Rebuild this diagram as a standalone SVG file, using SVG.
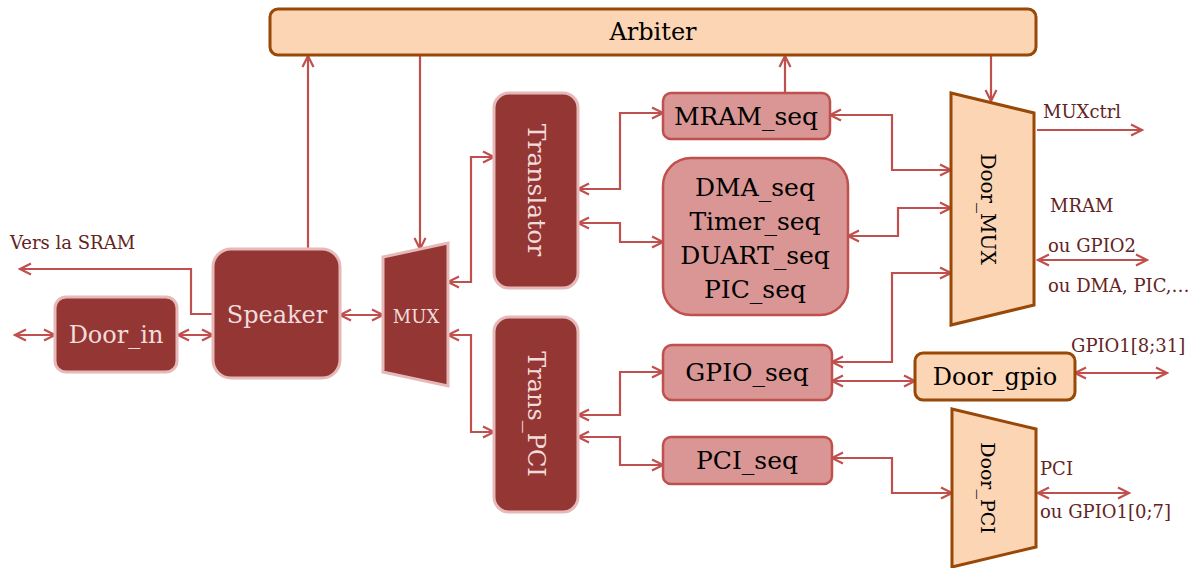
<svg xmlns="http://www.w3.org/2000/svg" width="1198" height="568" viewBox="0 0 1198 568">
<style>
.dark{fill:#943634;stroke:#E6B9B8;stroke-width:3}
.mid{fill:#D99694;stroke:#C0504D;stroke-width:2.5}
.or{fill:#FCD5B5;stroke:#984807;stroke-width:3}
.tl{font-family:"DejaVu Serif",serif;font-size:24px;fill:#F2DCDB;text-anchor:middle;dominant-baseline:central}
.tb{font-family:"DejaVu Serif",serif;font-size:24px;fill:#000;text-anchor:middle;dominant-baseline:central}
.lab{font-family:"DejaVu Serif",serif;font-size:18px;fill:#632423}
.c{fill:none;stroke:#C0504D;stroke-width:2.2}
</style>
<defs>
<marker id="a" viewBox="0 0 14 14" refX="12" refY="7" markerWidth="14" markerHeight="14" markerUnits="userSpaceOnUse" orient="auto-start-reverse">
<path d="M1,1.5 L12,7 L1,12.5" fill="none" stroke="#C0504D" stroke-width="2.2"/>
</marker>
</defs>
<rect width="1198" height="568" fill="#fff"/>
<g id="connectors">
<path class="c" d="M308,249 V56" marker-end="url(#a)"/>
<path class="c" d="M420,55 V249" marker-end="url(#a)"/>
<path class="c" d="M785,93 V56" marker-end="url(#a)"/>
<path class="c" d="M991,55 V101" marker-end="url(#a)"/>
<path class="c" d="M213,314 H191 V269 H20" marker-end="url(#a)"/>
<path class="c" d="M15,335 H55" marker-start="url(#a)" marker-end="url(#a)"/>
<path class="c" d="M178,335 H213" marker-start="url(#a)" marker-end="url(#a)"/>
<path class="c" d="M340,315 H383" marker-start="url(#a)" marker-end="url(#a)"/>
<path class="c" d="M448,282 H471 V157 H494" marker-start="url(#a)" marker-end="url(#a)"/>
<path class="c" d="M448,335 H471 V432 H494" marker-start="url(#a)" marker-end="url(#a)"/>
<path class="c" d="M578,189 H620 V113 H663" marker-start="url(#a)" marker-end="url(#a)"/>
<path class="c" d="M578,223 H620 V242 H663" marker-start="url(#a)" marker-end="url(#a)"/>
<path class="c" d="M830,115 H892 V170 H951" marker-start="url(#a)" marker-end="url(#a)"/>
<path class="c" d="M848,236 H898 V208 H951" marker-start="url(#a)" marker-end="url(#a)"/>
<path class="c" d="M832,362 H892 V273 H951" marker-start="url(#a)" marker-end="url(#a)"/>
<path class="c" d="M832,381 H915" marker-start="url(#a)" marker-end="url(#a)"/>
<path class="c" d="M1075,373 H1167" marker-start="url(#a)" marker-end="url(#a)"/>
<path class="c" d="M578,415 H620 V372 H663" marker-start="url(#a)" marker-end="url(#a)"/>
<path class="c" d="M578,437 H620 V465 H663" marker-start="url(#a)" marker-end="url(#a)"/>
<path class="c" d="M832,458 H892 V493 H952" marker-start="url(#a)" marker-end="url(#a)"/>
<path class="c" d="M1038,493 H1129" marker-start="url(#a)" marker-end="url(#a)"/>
<path class="c" d="M1037,130 H1142" marker-end="url(#a)"/>
<path class="c" d="M1038,260 H1147" marker-start="url(#a)" marker-end="url(#a)"/>
</g>
<g id="arbiter"><rect class="or" x="270" y="9" width="766" height="46" rx="8"/><text class="tb" x="653" y="32">Arbiter</text></g>
<g id="door_in"><rect class="dark" x="55" y="297" width="122" height="75" rx="11"/><text class="tl" x="116" y="335">Door_in</text></g>
<g id="speaker"><rect class="dark" x="213" y="249" width="127" height="129" rx="18"/><text class="tl" x="277" y="315">Speaker</text></g>
<g id="mux"><polygon class="dark" points="383,257 448,243 448,386 383,372"/><text class="tl" x="416" y="316" style="font-size:18px">MUX</text></g>
<g id="translator"><rect class="dark" x="494" y="93" width="84" height="195" rx="15"/><text class="tl" transform="translate(536,190) rotate(90)" style="font-size:25px">Translator</text></g>
<g id="trans_pci"><rect class="dark" x="494" y="317" width="84" height="195" rx="15"/><text class="tl" transform="translate(536,414) rotate(90)">Trans_PCI</text></g>
<g id="mram_seq"><rect class="mid" x="663" y="93" width="167" height="46" rx="8"/><text class="tb" x="746" y="116" style="font-size:25px">MRAM_seq</text></g>
<g id="multi_seq"><rect class="mid" x="663" y="158" width="185" height="157" rx="28"/>
<text class="tb" style="dominant-baseline:auto;font-size:25px" x="755" y="196">DMA_seq</text>
<text class="tb" style="dominant-baseline:auto;font-size:25px" x="755" y="230">Timer_seq</text>
<text class="tb" style="dominant-baseline:auto;font-size:25px" x="755" y="264">DUART_seq</text>
<text class="tb" style="dominant-baseline:auto;font-size:25px" x="755" y="298">PIC_seq</text></g>
<g id="gpio_seq"><rect class="mid" x="663" y="345" width="169" height="55" rx="9"/><text class="tb" x="747" y="372" style="font-size:25px">GPIO_seq</text></g>
<g id="pci_seq"><rect class="mid" x="663" y="437" width="169" height="47" rx="8"/><text class="tb" x="747" y="460" style="font-size:25px">PCI_seq</text></g>
<g id="door_mux"><polygon class="or" points="951,93 1034,113 1034,305 951,325"/><text class="tb" transform="translate(988,209) rotate(90)" style="font-size:20px">Door_MUX</text></g>
<g id="door_gpio"><rect class="or" x="915" y="353" width="160" height="47" rx="8"/><text class="tb" x="995" y="377">Door_gpio</text></g>
<g id="door_pci"><polygon class="or" points="952,409 1036,429 1036,547 952,567"/><text class="tb" transform="translate(988,488) rotate(90)" style="font-size:19px">Door_PCI</text></g>
<g id="labels">
<text class="lab" x="10" y="249">Vers la SRAM</text>
<text class="lab" x="1043" y="118">MUXctrl</text>
<text class="lab" x="1050" y="212">MRAM</text>
<text class="lab" x="1048" y="252">ou GPIO2</text>
<text class="lab" x="1048" y="292">ou DMA, PIC,…</text>
<text class="lab" x="1071" y="352">GPIO1[8;31]</text>
<text class="lab" x="1040" y="475">PCI</text>
<text class="lab" x="1040" y="518">ou GPIO1[0;7]</text>
</g>
</svg>
